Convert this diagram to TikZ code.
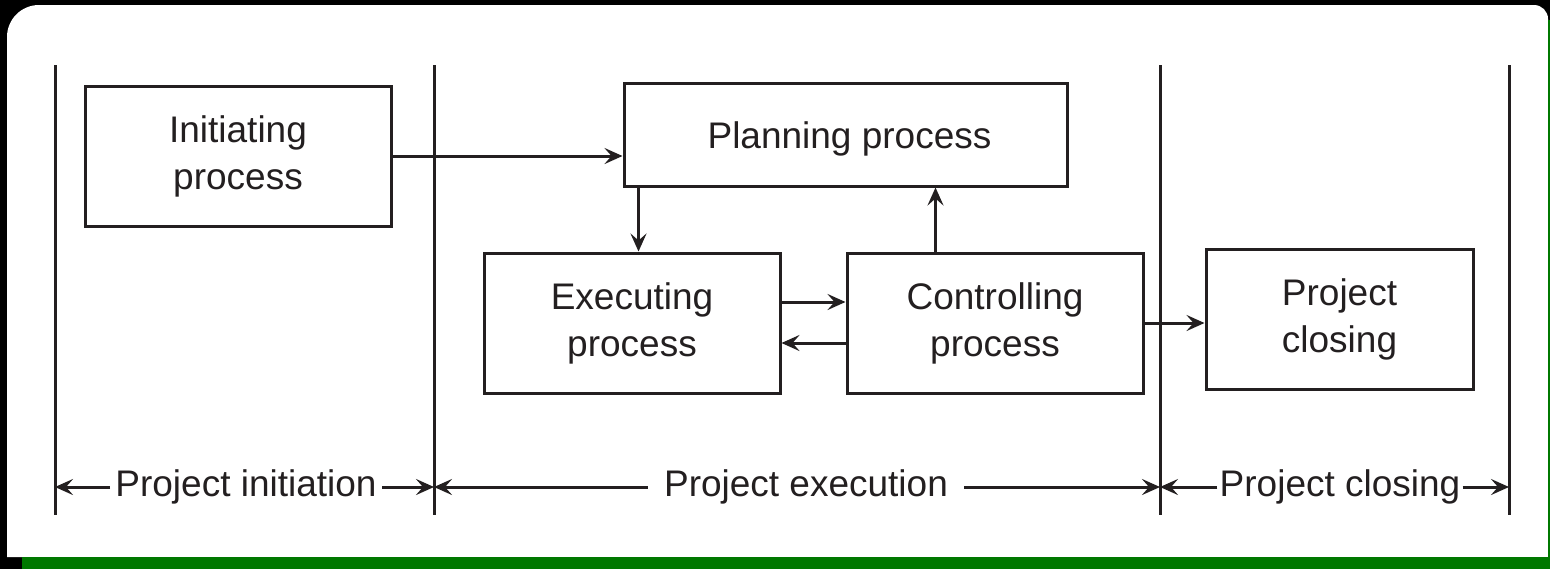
\documentclass[tikz,border=0pt]{standalone}
\usepackage{fontspec}
\setmainfont{Liberation Sans}
\usetikzlibrary{arrows.meta,calc}
\definecolor{ink}{HTML}{231F20}
\definecolor{bargreen}{HTML}{007800}
\begin{document}
\begin{tikzpicture}[x=0.5pt,y=-0.5pt,
  box/.style={draw=ink,line width=1.5pt,inner sep=0pt,align=center,text=ink,
    font=\fontsize{18.5}{23.5}\selectfont},
  conn/.style={draw=ink,line width=1.5pt,-{Stealth[length=9pt,width=8pt,inset=3.5pt]}},
  phaseline/.style={draw=ink,line width=1.5pt},
  lbl/.style={text=ink,font=\fontsize{18.5}{23.5}\selectfont,inner ysep=0pt}]
\useasboundingbox (0,0) rectangle (1550,569);
% frame
\fill[black] (0,0) rectangle (1550,569);
\fill[white] (7,557) -- (7,100) [rounded corners=16pt] -- (7,5) -- (700,5) [rounded corners=7pt] -- (1548,5) -- (1548,100) [sharp corners] -- (1548,557) -- cycle;
\fill[bargreen] (22,557) rectangle (1550,569);
\fill[bargreen] (1548,20) rectangle (1550,557);
% phase separators
\coordinate (v1t) at (55,65);   \coordinate (v1b) at (55,515);
\coordinate (v2t) at (434,65);  \coordinate (v2b) at (434,515);
\coordinate (v3t) at (1160,65); \coordinate (v3b) at (1160,515);
\coordinate (v4t) at (1509,65); \coordinate (v4b) at (1509,515);
\draw[phaseline] (v1t) -- (v1b);
\draw[phaseline] (v2t) -- (v2b);
\draw[phaseline] (v3t) -- (v3b);
\draw[phaseline] (v4t) -- (v4b);
% process boxes
\node[box,minimum width=153pt,minimum height=70pt] (init) at (238,156) {Initiating\\process};
\node[box,minimum width=221.5pt,minimum height=51.5pt] (plan) at (845.5,134.5) {\hspace*{4pt}Planning process\rule{0pt}{17.5pt}};
\node[box,minimum width=148pt,minimum height=70pt] (exec) at (632,323) {Executing\\process};
\node[box,minimum width=148pt,minimum height=70pt] (ctrl) at (995,323) {Controlling\\process};
\node[box,minimum width=133.5pt,minimum height=70pt] (close) at (1339.5,319) {Project\\closing};
% connectors
\draw[conn] (init.east) -- (init.east -| plan.west);
\draw[conn] ([xshift=8pt]plan.south west) -- ([xshift=8pt]plan.south west |- exec.north);
\draw[conn] ([xshift=45pt]ctrl.north west) -- ([xshift=45pt]ctrl.north west |- plan.south);
\draw[conn] ([yshift=10.5pt]exec.east) -- ([yshift=10.5pt]exec.east -| ctrl.west);
\draw[conn] ([yshift=-10pt]ctrl.west) -- ([yshift=-10pt]ctrl.west -| exec.east);
\draw[conn] (ctrl.east) -- (ctrl.east -| close.west);
% phase labels
\node[lbl,inner xsep=2.5pt] (ph1) at (246,487) {Project initiation};
\node[lbl,inner xsep=8pt] (ph2) at (806,487) {Project execution};
\node[lbl,inner xsep=1pt] (ph3) at (1340,487) {Project closing};
\draw[conn] (ph1.west) -- (ph1.west -| v1t);
\draw[conn] (ph1.east) -- (ph1.east -| v2t);
\draw[conn] (ph2.west) -- (ph2.west -| v2t);
\draw[conn] (ph2.east) -- (ph2.east -| v3t);
\draw[conn] (ph3.west) -- (ph3.west -| v3t);
\draw[conn] (ph3.east) -- (ph3.east -| v4t);
\end{tikzpicture}
\end{document}
